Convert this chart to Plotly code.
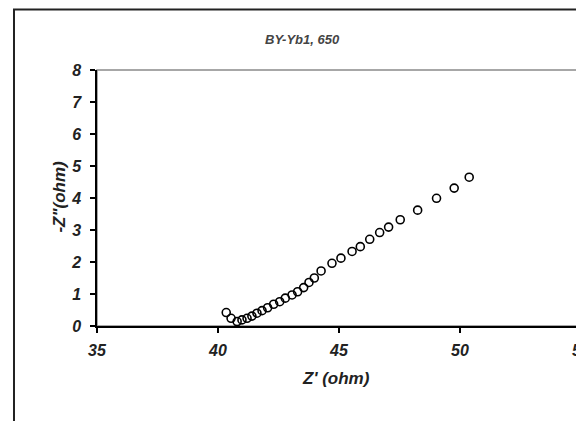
import plotly.graph_objects as go

# Data (Nyquist plot, BY-Yb1 at 650)
z_real = [40.34, 40.54, 40.79, 40.99, 41.20, 41.40, 41.61, 41.82, 42.05, 42.30,
          42.55, 42.78, 43.06, 43.29, 43.54, 43.76, 43.98, 44.26, 44.71, 45.08,
          45.54, 45.88, 46.27, 46.68, 47.05, 47.53, 48.25, 49.03, 49.76, 50.38]
z_imag_neg = [0.42, 0.24, 0.14, 0.19, 0.24, 0.31, 0.40, 0.48, 0.57, 0.68,
              0.76, 0.87, 0.97, 1.07, 1.20, 1.36, 1.50, 1.72, 1.96, 2.12,
              2.33, 2.48, 2.71, 2.92, 3.09, 3.32, 3.62, 3.99, 4.31, 4.65]

x_ticks = [35, 40, 45, 50, 55]
y_ticks = [0, 1, 2, 3, 4, 5, 6, 7, 8]

title_text = "BY-Yb1, 650"
x_title = "Z' (ohm)"
y_title = "-Z\"(ohm)"

FONT = "Liberation Sans, Arial, sans-serif"

fig = go.Figure()
fig.add_trace(go.Scatter(
    x=z_real, y=z_imag_neg, mode="markers",
    marker=dict(symbol="circle-open", size=8, color="black",
                line=dict(color="black", width=1.6)),
    showlegend=False, hoverinfo="x+y",
))

axis_common = dict(
    showgrid=False, zeroline=False, showline=True, linecolor="black",
    linewidth=1.5, ticks="outside", ticklen=5, tickwidth=1.5, tickcolor="black",
    automargin=False, ticklabeloverflow="allow",
    tickfont=dict(family=FONT, size=16, color="#222", weight="bold", style="italic"),
)

fig.update_layout(
    width=576, height=413,
    margin=dict(l=89, r=3, t=62, b=95),
    paper_bgcolor="white", plot_bgcolor="white",
    template="none",
    xaxis=dict(range=[35, 55], tickvals=x_ticks, ticklabelstandoff=4, **axis_common),
    yaxis=dict(range=[0, 8], tickvals=y_ticks, ticklabelstandoff=6, **axis_common),
    shapes=[
        # gray plot-area border (top/right visible)
        dict(type="rect", xref="paper", yref="paper", x0=0, x1=1, y0=0, y1=1,
             line=dict(color="#8a8a8a", width=1.5), layer="below"),
        # outer chart frame
        dict(type="rect", xref="paper", yref="paper", x0=-0.1715, x1=1.05,
             y0=-0.5, y1=1.236, line=dict(color="#222", width=2)),
    ],
    annotations=[
        dict(text=f"<b><i>{title_text}</i></b>", xref="paper", yref="paper",
             x=0.4256, y=1.156, showarrow=False,
             font=dict(family=FONT, size=13, color="#444")),
        dict(text=f"<b><i>{x_title}</i></b>", xref="paper", yref="paper",
             x=0.494, y=-0.25, showarrow=False,
             font=dict(family=FONT, size=17, color="#222")),
        dict(text=f"<b><i>{y_title}</i></b>", xref="paper", yref="paper",
             x=-0.101, y=0.504, showarrow=False, textangle=-90,
             font=dict(family=FONT, size=17, color="#222")),
    ],
)

fig.write_html("out.html")
